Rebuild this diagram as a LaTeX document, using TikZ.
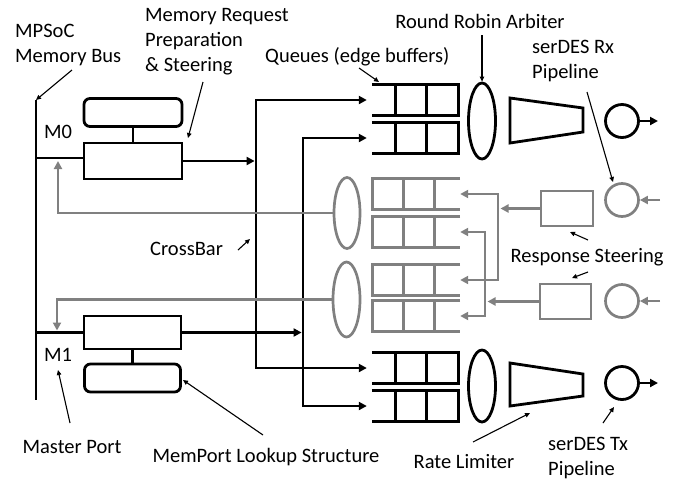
\documentclass[tikz,border=0pt]{standalone}
\usepackage{fontspec}
\setmainfont{Carlito}
\usetikzlibrary{arrows.meta,shapes.geometric,calc}
\definecolor{resp}{RGB}{128,128,128}

\tikzset{
  main/.style={line width=2.8pt},
  gline/.style={line width=2.7pt, draw=resp},
  arr/.style={main, -{Triangle[length=8pt,width=8pt]}},
  garr/.style={gline, -{Triangle[length=8pt,width=8pt]}},
  ptr/.style={line width=1.1pt, -{Triangle[length=5pt,width=4.5pt]}},
  box/.style={draw, main, rectangle, inner sep=0pt},
  rbox/.style={box, rounded corners=6pt},
  gbox/.style={draw=resp, line width=2.7pt, rectangle, inner sep=0pt, minimum width=52pt, minimum height=35pt},
  txrow/.style={rectangle, inner sep=0pt, minimum width=86pt, minimum height=30pt},
  rxrow/.style={rectangle, inner sep=0pt, minimum width=87pt, minimum height=30pt},
  arb/.style={draw, main, ellipse, inner sep=0pt},
  garb/.style={draw=resp, line width=2.7pt, ellipse, inner sep=0pt},
  pipe/.style={draw, main, circle, inner sep=0pt, minimum size=33pt},
  gpipe/.style={draw=resp, line width=2.7pt, circle, inner sep=0pt, minimum size=33pt},
  lbl/.style={font=\fontsize{20.5}{25}\selectfont, inner sep=0pt, align=left},
}

% transmit queue row: open on the left, closed on the right
\newcommand\txqueue[1]{%
  \draw[main] (#1.north west) -- (#1.north east) -- (#1.south east) -- (#1.south west);
  \draw[main] ($(#1.north west)+(24,0)$) -- ($(#1.south west)+(24,0)$);
  \draw[main] ($(#1.north west)+(55,0)$) -- ($(#1.south west)+(55,0)$);}
% receive queue row: closed on the left, open on the right
\newcommand\rxqueue[1]{%
  \draw[gline] (#1.north east) -- (#1.north west) -- (#1.south west) -- (#1.south east);
  \draw[gline] ($(#1.north west)+(31,0)$) -- ($(#1.south west)+(31,0)$);
  \draw[gline] ($(#1.north west)+(62,0)$) -- ($(#1.south west)+(62,0)$);}

\begin{document}
\begin{tikzpicture}[x=1pt,y=-1pt]
\useasboundingbox (0,0) rectangle (685,483);

% ---------- memory bus and master ports ----------
\coordinate (busTop) at (36,100);
\coordinate (busBot) at (36,400);
\draw[main] (busTop) -- (busBot);

\node[rbox, minimum width=98pt, minimum height=28pt] (m0lu) at (133,112.5) {};
\node[box, minimum width=98pt, minimum height=36pt] (m0rq) at (133,161) {};
\draw[main] (m0lu.south) -- (m0rq.north);
\coordinate (m0tap) at (36,158);
\draw[main] (m0tap) -- (m0tap -| m0rq.west);
\node[lbl] (m0lbl) at (58,132) {M0};

\node[box, minimum width=97pt, minimum height=33pt] (m1rq) at (132.5,332.5) {};
\node[rbox, minimum width=96pt, minimum height=28pt] (m1lu) at (132.5,378) {};
\draw[main] (m1rq.south) -- (m1lu.north);
\draw[main] (m1rq.west -| busTop) -- (m1rq.west);
\node[lbl] (m1lbl) at (58,355) {M1};

% ---------- transmit queues ----------
\node[txrow] (q1) at (415,100) {};
\node[txrow] (q2) at (415,138) {};
\node[txrow] (q7) at (415,368) {};
\node[txrow] (q8) at (415,406) {};
\txqueue{q1}\txqueue{q2}\txqueue{q7}\txqueue{q8}

% ---------- crossbar ----------
\coordinate (xa) at (256,161);
\coordinate (xb) at (303,332.5);
\draw[arr, shorten >=1.4pt] (m0rq.east) -- (xa);
\draw[arr, shorten >=1.4pt] (m1rq.east) -- (xb);
\draw[arr, shorten >=5pt] (xa) |- (q1.west);
\draw[arr, shorten >=5pt] (xa) |- (q7.west);
\draw[arr, shorten >=5pt] (xb) |- (q2.west);
\draw[arr, shorten >=5pt] (xb) |- (q8.west);

% ---------- arbiters, rate limiters, tx pipelines ----------
\node[arb, minimum width=27pt, minimum height=76pt] (rr1) at (482,121) {};
\node[arb, minimum width=27pt, minimum height=72pt] (rr2) at (482,386) {};
\draw[main] (510,98) -- (583,108) -- (583,132) -- (510,143) -- cycle;
\draw[main] (510,363) -- (583,374) -- (583,396) -- (510,406) -- cycle;
\coordinate (rl2) at (530,413);
\node[pipe] (tx1) at (622,121) {};
\node[pipe] (tx2) at (622,383) {};
\coordinate (tx1out) at (658,121);
\coordinate (tx2out) at (658,383);
\draw[arr] (tx1.east) -- (tx1out);
\draw[arr] (tx2.east) -- (tx2out);

% ---------- response path ----------
\node[rxrow] (g1) at (416.5,194) {};
\node[rxrow] (g2) at (416.5,232) {};
\node[rxrow] (g3) at (416.5,280) {};
\node[rxrow] (g4) at (416.5,316) {};
\rxqueue{g1}\rxqueue{g2}\rxqueue{g3}\rxqueue{g4}

\node[garb, minimum width=26pt, minimum height=71pt] (ge1) at (347,213) {};
\node[garb, minimum width=27pt, minimum height=75pt] (ge2) at (346.5,299.5) {};
\coordinate (m0ret) at (58,161);
\coordinate (m1ret) at (57,330.5);
\draw[garr] (ge1.west) -| (m0ret);
\draw[garr] (ge2.west) -| (m1ret);

\node[gbox] (rs1) at (567,208.5) {};
\node[gbox, minimum width=51pt] (rs2) at (565.5,301.5) {};
\coordinate (ru) at (498,208.5);
\coordinate (rl) at (485,301.5);
\draw[garr, shorten >=2.5pt] (rs1.west) -- (ru);
\draw[garr, shorten >=2.5pt] (rs2.west) -- (rl);
\draw[garr] (ru) |- (g1.east);
\draw[garr] (ru) |- (g3.east);
\draw[garr] (rl) |- (g2.east);
\draw[garr] (rl) |- (g4.east);

\node[gpipe] (rx1) at (622,200) {};
\node[gpipe] (rx2) at (622,301) {};
\coordinate (rx1in) at (660,200);
\coordinate (rx2in) at (660,301);
\draw[garr] (rx1in) -- (rx1.east);
\draw[garr] (rx2in) -- (rx2.east);

% ---------- labels ----------
\node[lbl, anchor=west] (tBus) at (15,45) {MPSoC\\Memory Bus};
\node[lbl, anchor=west] (tReq) at (145,42) {Memory Request\\Preparation\\\& Steering};
\node[lbl, anchor=west] (tQ) at (265,57) {Queues (edge buffers)};
\node[lbl] (tRR) at (480,21) {Round Robin Arbiter};
\node[lbl, anchor=west] (tRx) at (532,60.5) {serDES Rx\\Pipeline};
\node[lbl, anchor=west] (tXB) at (150,249) {CrossBar};
\node[lbl] (tRS) at (587,257) {Response Steering};
\node[lbl] (tMP) at (72,447) {Master Port};
\node[lbl] (tLU) at (266,457) {MemPort Lookup Structure};
\node[lbl] (tRL) at (464,462) {Rate Limiter};
\node[lbl, anchor=west] (tTx) at (548,458) {serDES Tx\\Pipeline};

% ---------- pointers ----------
\draw[ptr] (72,70) -- (busTop);
\draw[ptr] (203,82) -- (188,138);
\draw[ptr] (359,68) -- (379,82);
\draw[ptr] (482,35) -- (rr1.north);
\draw[ptr] (587,92) -- (613,182);
\draw[ptr] (238,250) -- (250,239);
\draw[ptr] (588,240) -- (570,232);
\draw[ptr] (588,272) -- (572,278);
\draw[ptr] (70,423) -- (58,370);
\draw[ptr] (263,435) -- (183,380);
\draw[ptr] (473,442) -- (rl2);
\draw[ptr] (603,423) -- (614,407);
\end{tikzpicture}
\end{document}
